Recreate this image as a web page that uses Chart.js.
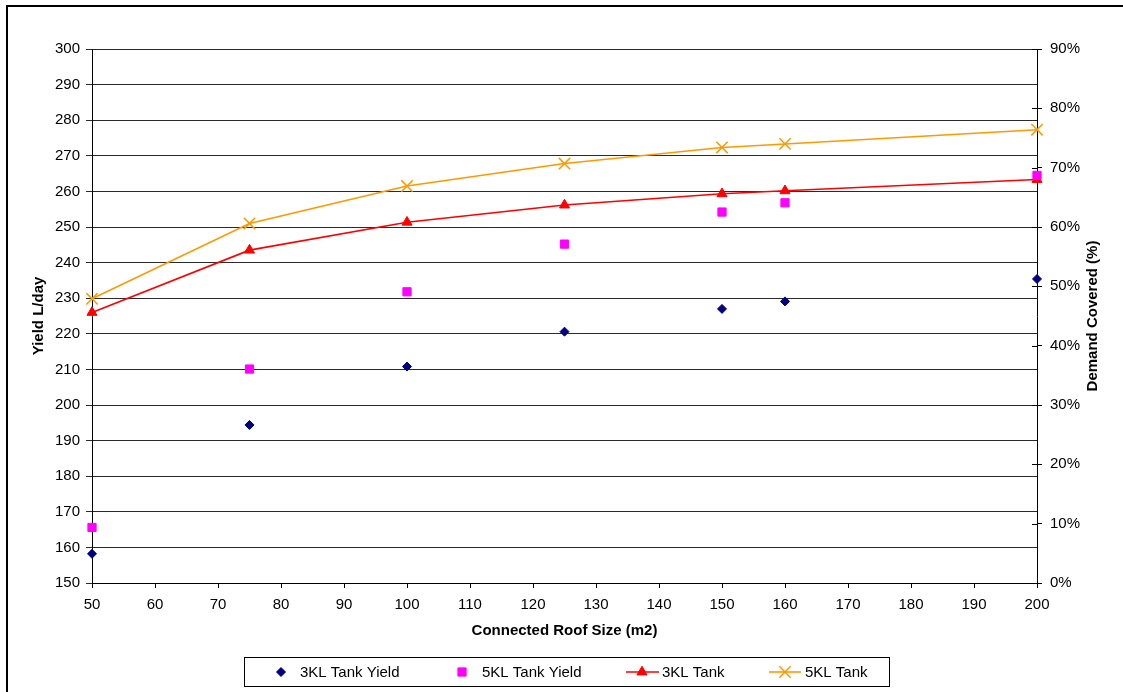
<!DOCTYPE html>
<html>
<head>
<meta charset="utf-8">
<title>Roof size vs tank yield</title>
<script src="https://cdn.jsdelivr.net/npm/chart.js@4/dist/chart.umd.min.js"></script>
<style>
  html, body { margin: 0; padding: 0; background: #fff; overflow: hidden; }
  #wrap { position: relative; width: 1123px; height: 692px; overflow: hidden; }
  #frame { position: absolute; left: 6px; top: 5px; width: 1300px; height: 900px;
           border-left: 2px solid #000; border-top: 2px solid #000; pointer-events: none; }
  canvas { position: absolute; left: 0; top: 0; }
</style>
</head>
<body>
<div id="wrap">
  <canvas id="chart" width="1123" height="692"></canvas>
  <div id="frame"></div>
</div>
<script>
// Connected roof size (m2)
const roofSizes = [50, 75, 100, 125, 150, 160, 200];
// Yield, L/day (left axis)
const yield3KL = [158.2, 194.4, 210.8, 220.6, 227.0, 229.1, 235.4];
const yield5KL = [165.6, 210.1, 231.8, 245.2, 254.2, 256.8, 264.5];
// Demand covered, % (right axis)
const covered3KL = [45.6, 56.1, 60.8, 63.7, 65.6, 66.1, 68.0];
const covered5KL = [47.9, 60.6, 66.9, 70.7, 73.4, 74.0, 76.4];

const seriesNames = ['3KL Tank Yield', '5KL Tank Yield', '3KL Tank', '5KL Tank'];
const xTitle = 'Connected Roof Size (m2)';
const yTitle = 'Yield L/day';
const y1Title = 'Demand Covered (%)';

const pts = (ys) => roofSizes.map((x, i) => ({ x: x, y: ys[i] }));

const FAMILY = '"Liberation Sans", Arial, Helvetica, sans-serif';
Chart.defaults.font.family = FAMILY;
Chart.defaults.color = '#000';

// Tick marks on the chart side of the right axis, so they cross it,
// plus the right axis title written bottom-to-top like the left one
const rightAxisExtras = {
  id: 'rightAxisExtras',
  beforeDatasetsDraw(chart, args, opts) {
    const s = chart.scales.y1;
    const ctx = chart.ctx;
    ctx.save();
    ctx.strokeStyle = '#000';
    ctx.lineWidth = 1;
    s.ticks.forEach(t => {
      const py = Math.round(s.getPixelForValue(t.value)) + 0.5;
      ctx.beginPath();
      ctx.moveTo(s.left - 5, py);
      ctx.lineTo(s.left, py);
      ctx.stroke();
    });
    ctx.translate(s.right - 13, (s.top + s.bottom) / 2);
    ctx.rotate(-Math.PI / 2);
    ctx.fillStyle = '#000';
    ctx.font = 'bold 15px ' + FAMILY;
    ctx.textAlign = 'center';
    ctx.textBaseline = 'middle';
    ctx.fillText(opts.text, 0, 0);
    ctx.restore();
  }
};

// Boxed legend below the axis title, with line+marker samples
const boxLegend = {
  id: 'boxLegend',
  afterDraw(chart, args, opts) {
    const ctx = chart.ctx;
    const b = opts.box;
    ctx.save();
    ctx.fillStyle = '#fff';
    ctx.fillRect(b.x, b.y, b.w, b.h);
    ctx.strokeStyle = '#000';
    ctx.lineWidth = 1;
    ctx.strokeRect(b.x + 0.5, b.y + 0.5, b.w, b.h);
    const cy = b.y + b.h / 2 + 0.5;
    opts.items.forEach((it, i) => {
      const ds = chart.data.datasets[i];
      if (it.line) {
        ctx.strokeStyle = ds.borderColor;
        ctx.lineWidth = ds.borderWidth;
        ctx.beginPath();
        ctx.moveTo(it.line[0], cy);
        ctx.lineTo(it.line[1], cy);
        ctx.stroke();
      }
      ctx.fillStyle = ds.pointBackgroundColor;
      ctx.strokeStyle = ds.pointBorderColor;
      ctx.lineWidth = ds.pointBorderWidth;
      Chart.helpers.drawPoint(ctx, {
        pointStyle: ds.pointStyle,
        radius: ds.pointRadius,
        rotation: 0,
        borderWidth: ds.pointBorderWidth
      }, it.mx, cy);
      ctx.fillStyle = '#000';
      ctx.font = '15px ' + FAMILY;
      ctx.textBaseline = 'middle';
      ctx.textAlign = 'left';
      ctx.fillText(ds.label, it.tx, cy + 0.5);
    });
    ctx.restore();
  }
};

const axisTitleFont = { size: 15, weight: 'bold' };
const tickFont = { size: 15 };

new Chart(document.getElementById('chart'), {
  type: 'scatter',
  data: {
    datasets: [
      {
        label: seriesNames[0], data: pts(yield3KL), yAxisID: 'y', showLine: false,
        pointStyle: 'rectRot', pointRadius: 4.5, pointBorderWidth: 1,
        pointBackgroundColor: '#000080', pointBorderColor: '#000080',
        borderColor: '#000080', borderWidth: 1, clip: false
      },
      {
        label: seriesNames[1], data: pts(yield5KL), yAxisID: 'y', showLine: false,
        pointStyle: 'rect', pointRadius: 5.8, pointBorderWidth: 1,
        pointBackgroundColor: '#ff00ff', pointBorderColor: '#ff00ff',
        borderColor: '#ff00ff', borderWidth: 1, clip: false
      },
      {
        label: seriesNames[2], data: pts(covered3KL), yAxisID: 'y1', showLine: true,
        borderColor: '#ff0000', borderWidth: 1.6, tension: 0,
        pointStyle: 'triangle', pointRadius: 5.8, pointBorderWidth: 1,
        pointBackgroundColor: '#ff0000', pointBorderColor: '#ff0000', clip: false
      },
      {
        label: seriesNames[3], data: pts(covered5KL), yAxisID: 'y1', showLine: true,
        borderColor: '#ff9900', borderWidth: 1.6, tension: 0,
        pointStyle: 'crossRot', pointRadius: 8, pointBorderWidth: 1.5,
        pointBackgroundColor: '#ff9900', pointBorderColor: '#ff9900', clip: false
      }
    ]
  },
  options: {
    responsive: false,
    animation: false,
    devicePixelRatio: 1,
    layout: { padding: { left: 26, right: 17, top: 49, bottom: 48 } },
    plugins: {
      legend: { display: false },
      tooltip: { enabled: false },
      rightAxisExtras: { text: y1Title },
      boxLegend: {
        box: { x: 244, y: 657, w: 645, h: 29 },
        items: [
          { mx: 281, tx: 300 },
          { mx: 462, tx: 482 },
          { mx: 642, tx: 662, line: [626, 659] },
          { mx: 785, tx: 805, line: [769, 801] }
        ]
      }
    },
    scales: {
      x: {
        type: 'linear', position: 'bottom', min: 50, max: 200,
        ticks: { stepSize: 10, font: tickFont, color: '#000', padding: 8, maxRotation: 0 },
        grid: { drawOnChartArea: false, drawTicks: true, tickLength: 5, color: '#000' },
        border: { color: '#000', width: 1 },
        title: { display: true, text: xTitle, font: axisTitleFont, color: '#000', padding: { top: 4, bottom: 4 } },
        afterFit: (s) => { s.height = 61; }
      },
      y: {
        type: 'linear', position: 'left', min: 150, max: 300,
        ticks: { stepSize: 10, font: tickFont, color: '#000', padding: 6 },
        grid: { color: '#2a2a2a', lineWidth: 1, drawTicks: true, tickLength: 6 },
        border: { color: '#000', width: 1 },
        title: { display: true, text: yTitle, font: axisTitleFont, color: '#000', padding: { top: 4, bottom: 4 } },
        afterFit: (s) => { s.width = 66; }
      },
      y1: {
        type: 'linear', position: 'right', min: 0, max: 90,
        ticks: { stepSize: 10, font: tickFont, color: '#000', padding: 8, callback: (v) => v + '%' },
        grid: { drawOnChartArea: false, drawTicks: true, tickLength: 5, color: '#000' },
        border: { color: '#000', width: 1 },
        title: { display: false },
        afterFit: (s) => { s.width = 69; }
      }
    }
  },
  plugins: [rightAxisExtras, boxLegend]
});
</script>
</body>
</html>
